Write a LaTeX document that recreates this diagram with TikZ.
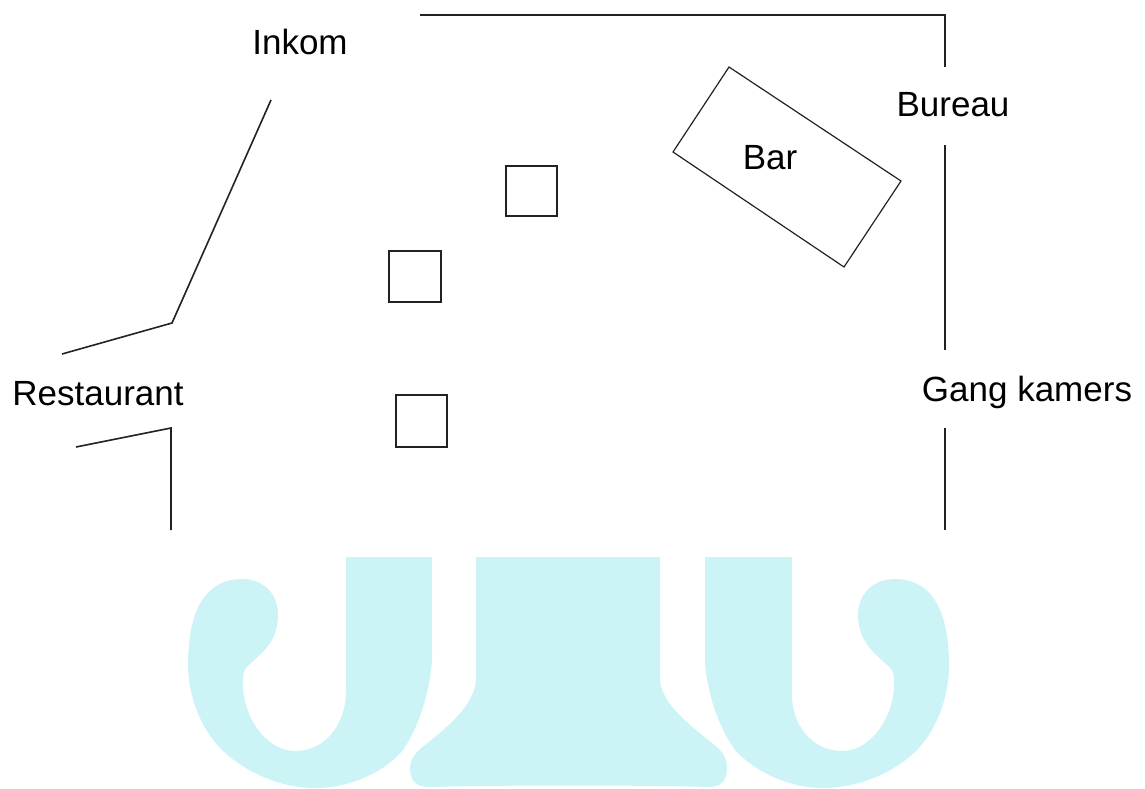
\documentclass[tikz,border=0pt]{standalone}
\usepackage{fontspec}
\setmainfont{Liberation Sans}
\definecolor{logoblue}{HTML}{CCF4F7}
\definecolor{wallgrey}{HTML}{222222}
\tikzset{wall/.style={draw=wallgrey,line width=1.6pt},
	tafel/.style={draw=wallgrey,line width=1.2pt},
	label/.style={font=\fontsize{35}{40}\selectfont,text=black,inner sep=0pt},
	logo/.style={fill=logoblue,draw=none}}
\begin{document}
\begin{tikzpicture}[x=1pt,y=-1pt]
	\useasboundingbox (0,0) rectangle (1145,788);
	% watermark
	\fill[logo] (346,557) to (432,557) to (432,660)
		.. controls (430,690) and (420,725) .. (403,750)
		.. controls (385,772) and (350,788) .. (315,788)
		.. controls (280,788) and (245,772) .. (222,750)
		.. controls (200,728) and (188,695) .. (188,665)
		.. controls (188,620) and (200,579) .. (242,579)
		.. controls (265,579) and (278,595) .. (278,615)
		.. controls (278,645) and (258,655) .. (246,668)
		.. controls (243,672) and (243,675) .. (243,685)
		.. controls (243,715) and (265,751) .. (295,751)
		.. controls (325,751) and (346,725) .. (346,690)
		to cycle;
	\fill[logo] (476,557) to (660,557) to (660,680)
		.. controls (662,705) and (690,725) .. (717,747)
		.. controls (725,755) and (727,760) .. (727,768)
		.. controls (727,782) and (720,787) .. (708,787)
		.. controls (650,785) and (490,785) .. (430,787)
		.. controls (417,787) and (410,782) .. (410,768)
		.. controls (410,760) and (415,752) .. (425,745)
		.. controls (450,725) and (474,705) .. (476,680)
		to cycle;
	\fill[logo] (792,557) to (705,557) to (705,663)
		.. controls (707,690) and (717,725) .. (735,750)
		.. controls (755,772) and (790,788) .. (822,788)
		.. controls (860,788) and (895,772) .. (917,750)
		.. controls (938,728) and (949,695) .. (949,665)
		.. controls (949,620) and (937,579) .. (895,579)
		.. controls (872,579) and (858,595) .. (858,615)
		.. controls (858,645) and (880,657) .. (890,668)
		.. controls (894,672) and (894,675) .. (894,685)
		.. controls (894,715) and (872,751) .. (842,751)
		.. controls (812,751) and (792,725) .. (792,695)
		to cycle;

	% walls
	\draw[wall] (420,15) to (945,15) to (945,67);
	\draw[wall] (945,145) to (945,350);
	\draw[wall] (945,428) to (945,530);
	\draw[wall] (271,100) to (172,323) to (62,354);
	\draw[wall] (76,447) to (171,428) to (171,530);

	% bar and tables
	\draw[tafel] (729,67) to (901,181) to (844,267) to (673,152) to cycle;
	\draw[tafel] (506,166) rectangle (557,216);
	\draw[tafel] (389,251) rectangle (441,302);
	\draw[tafel] (396,395) rectangle (447,447);

	\node[label] (inkom) at (300,42) {Inkom};
	\node[label] (bureau) at (953,105) {Bureau};
	\node[label] (bar) at (770,158) {Bar};
	\node[label] (restaurant) at (98,394) {Restaurant};
	\node[label] (gang) at (1027,392) {Gang kamers};
\end{tikzpicture}
\end{document}
